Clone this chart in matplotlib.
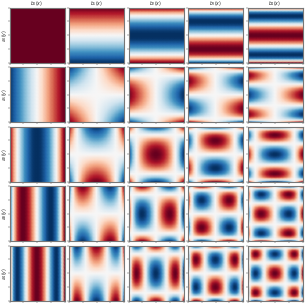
import numpy as np
import matplotlib
matplotlib.use("Agg")
import matplotlib.pyplot as plt

grid = [-1.0, -0.95, -0.9, -0.85, -0.8, -0.75, -0.7, -0.65, -0.6, -0.55, -0.5, -0.45, -0.4, -0.35, -0.3, -0.25, -0.2, -0.15, -0.1, -0.05,
        0.0, 0.05, 0.1, 0.15, 0.2, 0.25, 0.3, 0.35, 0.4, 0.45, 0.5, 0.55, 0.6, 0.65, 0.7, 0.75, 0.8, 0.85, 0.9, 0.95, 1.0]
mode_0 = [1.0] * 41
mode_1 = [-1.0, -0.95, -0.9, -0.85, -0.8, -0.75, -0.7, -0.65, -0.6, -0.55, -0.5, -0.45, -0.4, -0.35, -0.3, -0.25, -0.2, -0.15, -0.1, -0.05,
          0.0, 0.05, 0.1, 0.15, 0.2, 0.25, 0.3, 0.35, 0.4, 0.45, 0.5, 0.55, 0.6, 0.65, 0.7, 0.75, 0.8, 0.85, 0.9, 0.95, 1.0]
mode_2 = [1.0, 0.805, 0.62, 0.445, 0.28, 0.125, -0.02, -0.155, -0.28, -0.395, -0.5, -0.595, -0.68, -0.755, -0.82, -0.875, -0.92, -0.955, -0.98, -0.995,
          -1.0, -0.995, -0.98, -0.955, -0.92, -0.875, -0.82, -0.755, -0.68, -0.595, -0.5, -0.395, -0.28, -0.155, -0.02, 0.125, 0.28, 0.445, 0.62, 0.805, 1.0]
mode_3 = [-1.0, -0.58, -0.216, 0.094, 0.352, 0.563, 0.728, 0.852, 0.936, 0.985, 1.0, 0.986, 0.944, 0.879, 0.792, 0.688, 0.568, 0.437, 0.296, 0.15,
          0.0, -0.15, -0.296, -0.437, -0.568, -0.688, -0.792, -0.879, -0.944, -0.986, -1.0, -0.985, -0.936, -0.852, -0.728, -0.563, -0.352, -0.094, 0.216, 0.58, 1.0]
mode_4 = [1.0, 0.296, -0.231, -0.604, -0.843, -0.969, -0.999, -0.952, -0.843, -0.688, -0.5, -0.292, -0.075, 0.14, 0.345, 0.531, 0.693, 0.824, 0.921, 0.98,
          1.0, 0.98, 0.921, 0.824, 0.693, 0.531, 0.345, 0.14, -0.075, -0.292, -0.5, -0.688, -0.843, -0.952, -0.999, -0.969, -0.843, -0.604, -0.231, 0.296, 1.0]
modes = [mode_0, mode_1, mode_2, mode_3, mode_4]
col_titles = ["$b_0(x)$", "$b_1(x)$", "$b_2(x)$", "$b_3(x)$", "$b_4(x)$"]
row_titles = ["$a_0(y)$", "$a_1(y)$", "$a_2(y)$", "$a_3(y)$", "$a_4(y)$"]
tick_values = [-1, -0.5, 0, 0.5, 1]

lefts = [9.5, 69, 128.5, 188, 247.5]
tops = [7.5, 67, 126.5, 186, 245.5]
size = 55.0
W = H = 305

fig = plt.figure(figsize=(3.05, 3.05), dpi=100)
for r in range(5):
    for c in range(5):
        ax = fig.add_axes([lefts[c] / W, 1 - (tops[r] + size) / H, size / W, size / H])
        img = np.outer(modes[c], modes[r])
        ax.pcolormesh(grid, grid, img, shading="gouraud", cmap="RdBu_r", vmin=-1, vmax=1, rasterized=True)
        ax.set_xlim(-1, 1)
        ax.set_ylim(-1, 1)
        ax.set_xticks(tick_values)
        ax.set_yticks(tick_values)
        ax.tick_params(length=1.2, width=0.3, labelbottom=False, labelleft=False, color="#333333")
        for s in ax.spines.values():
            s.set_linewidth(0.8)
            s.set_color("#777777")
        if r == 0:
            ax.set_title(col_titles[c], fontsize=3.3, pad=1.5, color="#222222")
        if c == 0:
            ax.set_ylabel(row_titles[r], fontsize=3.3, labelpad=-0.5, color="#222222")
fig.savefig("out.png", dpi=100)
